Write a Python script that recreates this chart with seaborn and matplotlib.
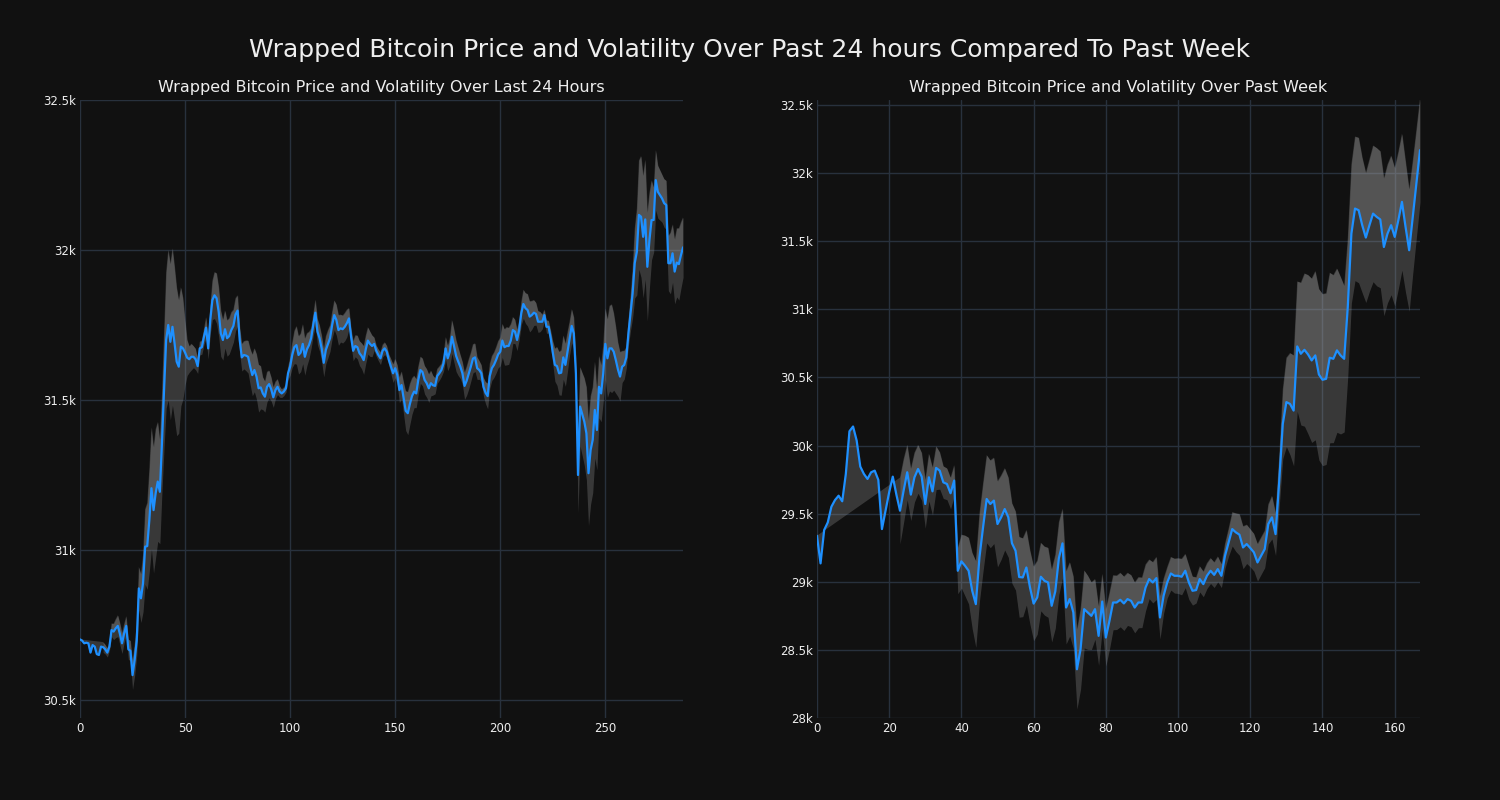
"""Wrapped Bitcoin price with rolling volatility band: last 24 hours vs past week."""

import matplotlib

matplotlib.use("Agg")
import matplotlib.pyplot as plt
import numpy as np
import pandas as pd
import seaborn as sns
from matplotlib.ticker import FuncFormatter, MultipleLocator

# 5-minute prices over the last 24 hours (USD)
price_24h = [
    30702, 30698, 30689, 30691, 30689, 30658, 30683, 30678, 30653, 30650,
    30678, 30676, 30669, 30658, 30678, 30733, 30728, 30739, 30747, 30720,
    30689, 30722, 30747, 30669, 30664, 30583, 30633, 30698, 30872, 30839,
    30889, 31011, 31013, 31100, 31206, 31133, 31189, 31228, 31194, 31356,
    31533, 31700, 31750, 31694, 31744, 31689, 31628, 31611, 31678, 31672,
    31658, 31641, 31636, 31644, 31644, 31636, 31613, 31672, 31676, 31711,
    31741, 31672, 31767, 31833, 31849, 31839, 31794, 31722, 31700, 31736,
    31706, 31713, 31733, 31747, 31785, 31798, 31700, 31642, 31650, 31648,
    31644, 31611, 31583, 31600, 31578, 31539, 31542, 31522, 31511, 31544,
    31553, 31536, 31509, 31533, 31544, 31528, 31522, 31528, 31539, 31589,
    31611, 31650, 31676, 31683, 31650, 31658, 31687, 31644, 31669, 31683,
    31706, 31750, 31791, 31728, 31706, 31672, 31624, 31667, 31687, 31706,
    31750, 31783, 31767, 31733, 31739, 31736, 31744, 31756, 31772, 31711,
    31664, 31680, 31676, 31656, 31647, 31633, 31669, 31698, 31687, 31680,
    31687, 31664, 31650, 31639, 31664, 31672, 31661, 31633, 31611, 31589,
    31606, 31583, 31533, 31550, 31506, 31464, 31456, 31487, 31513, 31528,
    31522, 31567, 31600, 31593, 31567, 31556, 31539, 31556, 31549, 31547,
    31580, 31589, 31600, 31622, 31672, 31639, 31661, 31711, 31680, 31647,
    31628, 31611, 31589, 31547, 31564, 31587, 31611, 31638, 31642, 31606,
    31600, 31589, 31544, 31524, 31513, 31580, 31606, 31617, 31633, 31652,
    31661, 31698, 31676, 31680, 31680, 31698, 31733, 31728, 31700, 31733,
    31789, 31820, 31806, 31800, 31778, 31783, 31791, 31787, 31761, 31761,
    31761, 31783, 31744, 31744, 31706, 31658, 31617, 31613, 31589, 31591,
    31642, 31617, 31661, 31706, 31747, 31722, 31589, 31250, 31478, 31453,
    31428, 31389, 31256, 31333, 31367, 31467, 31400, 31544, 31522, 31589,
    31687, 31639, 31672, 31672, 31661, 31633, 31602, 31578, 31611, 31617,
    31642, 31722, 31789, 31856, 31956, 31994, 32117, 32111, 32044, 32102,
    31944, 32033, 32100, 32100, 32233, 32194, 32183, 32172, 32156, 32150,
    31956, 31956, 31989, 31928, 31958, 31953, 31983, 32009,
]

# hourly prices over the past week (USD)
price_week = [
    29338, 29135, 29380, 29436, 29551, 29600, 29632, 29591, 29792, 30105,
    30140, 30037, 29846, 29792, 29755, 29804, 29816, 29748, 29387, 29522,
    29657, 29772, 29640, 29522, 29669, 29804, 29640, 29767, 29828, 29772,
    29571, 29767, 29664, 29836, 29816, 29730, 29718, 29650, 29743, 29081,
    29150, 29118, 29081, 28934, 28836, 29179, 29400, 29608, 29571, 29596,
    29424, 29473, 29534, 29473, 29283, 29228, 29035, 29032, 29105, 28958,
    28840, 28885, 29037, 29007, 28995, 28824, 28929, 29174, 29282, 28811,
    28873, 28775, 28358, 28505, 28799, 28775, 28750, 28799, 28603, 28855,
    28591, 28713, 28848, 28848, 28868, 28841, 28873, 28860, 28811, 28848,
    28848, 28958, 29020, 28995, 29027, 28738, 28897, 28995, 29061, 29044,
    29044, 29037, 29081, 28995, 28934, 28939, 29020, 28983, 29044, 29081,
    29051, 29093, 29044, 29190, 29290, 29387, 29363, 29346, 29252, 29277,
    29248, 29216, 29142, 29191, 29240, 29424, 29473, 29350, 29730, 30159,
    30319, 30306, 30257, 30728, 30674, 30703, 30669, 30625, 30662, 30522,
    30483, 30490, 30645, 30637, 30699, 30662, 30637, 31017, 31556, 31740,
    31728, 31618, 31527, 31618, 31703, 31679, 31660, 31458, 31556, 31618,
    31532, 31654, 31789, 31605, 31434, 31679, 31924, 32169,
]

window_24h = 12    # one hour of 5-minute bars
window_week = 24   # one day of hourly bars

BG = "#111111"
GRID = "#28313d"
TEXT = "#eeeeee"
LINE = "#1e90ff"
BAND = "#a0a0a0"

sns.set_theme(style="darkgrid", rc={
    "figure.facecolor": BG,
    "axes.facecolor": BG,
    "axes.edgecolor": BG,
    "grid.color": GRID,
    "grid.linewidth": 1.0,
    "text.color": TEXT,
    "xtick.color": TEXT,
    "ytick.color": TEXT,
    "axes.labelcolor": TEXT,
})
plt.rcParams["font.family"] = ["DejaVu Sans"]


def k_fmt(v, _pos):
    return f"{v / 1000:g}k"


def draw(ax, prices, window, title, ylim, xstep):
    s = pd.Series(prices, dtype=float)
    std = s.rolling(window).std()
    upper = s + std
    lower = s - std
    x = np.arange(len(s))
    ok = upper.notna().to_numpy()

    # band above the price (polygon closes back to the first price)
    ax.fill(np.r_[x, x[ok][::-1]], np.r_[s.to_numpy(), upper.to_numpy()[ok][::-1]],
            color=BAND, alpha=0.28, lw=0, zorder=1)
    # full +/- 1 std band
    ax.fill_between(x, lower, upper, color=BAND, alpha=0.28, lw=0, zorder=1)
    sns.lineplot(x=x, y=s.to_numpy(), ax=ax, color=LINE, lw=1.6, zorder=3)

    ax.set_title(title, fontsize=11.5, color=TEXT, pad=6)
    ax.set(xlabel=None, ylabel=None)
    ax.set_xlim(0, len(s) - 1)
    ax.set_ylim(*ylim)
    ax.xaxis.set_major_locator(MultipleLocator(xstep))
    ax.yaxis.set_major_locator(MultipleLocator(500))
    ax.yaxis.set_major_formatter(FuncFormatter(k_fmt))
    ax.tick_params(length=0, labelsize=8.5, pad=3)
    for sp in ax.spines.values():
        sp.set_visible(False)


fig, (ax1, ax2) = plt.subplots(1, 2, figsize=(15, 8), dpi=100)
fig.subplots_adjust(left=80 / 1500, right=1420 / 1500, bottom=82 / 800,
                    top=700 / 800, wspace=0.222)

draw(ax1, price_24h, window_24h,
     "Wrapped Bitcoin Price and Volatility Over Last 24 Hours",
     (30440, 32500), 50)
draw(ax2, price_week, window_week,
     "Wrapped Bitcoin Price and Volatility Over Past Week",
     (28000, 32537), 20)

fig.suptitle("Wrapped Bitcoin Price and Volatility Over Past 24 hours Compared To Past Week",
             fontsize=18, color=TEXT, y=1 - 50 / 800, va="center")

fig.savefig("out.png", dpi=100, facecolor=BG)
plt.close(fig)
